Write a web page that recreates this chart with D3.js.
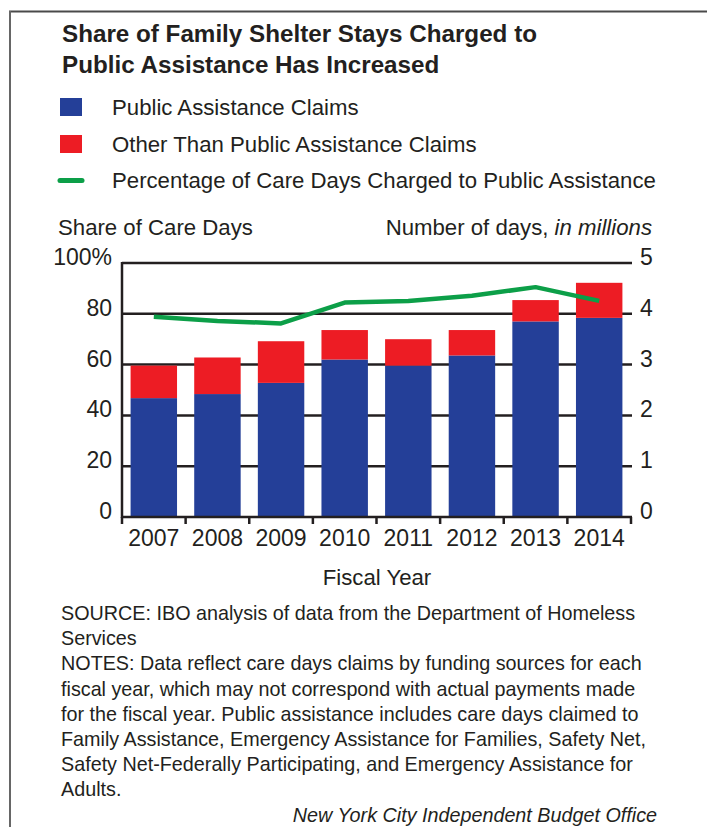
<!DOCTYPE html>
<html>
<head>
<meta charset="utf-8">
<script src="https://cdn.jsdelivr.net/npm/d3@7"></script>
<style>
  body { margin: 0; background: #fff; }
  svg { display: block; }
  text { fill: #231f20; }
</style>
</head>
<body>
<svg id="chart" width="707" height="827"></svg>
<script>
// fiscal years and care days, in millions
var years = ["2007", "2008", "2009", "2010", "2011", "2012", "2013", "2014"];
var publicDays = [2.34, 2.42, 2.64, 3.10, 2.98, 3.18, 3.85, 3.92];
var otherDays = [0.64, 0.72, 0.82, 0.58, 0.52, 0.50, 0.42, 0.69];
// percent of care days charged to public assistance
var paShare = [78.8, 77.2, 76.2, 84.4, 85.0, 87.1, 90.5, 85.1];
var shareTicks = [0, 20, 40, 60, 80, 100];
var dayTicks = [0, 1, 2, 3, 4, 5];

var titleLines = ["Share of Family Shelter Stays Charged to", "Public Assistance Has Increased"];
var legendItems = ["Public Assistance Claims", "Other Than Public Assistance Claims",
                   "Percentage of Care Days Charged to Public Assistance"];
var noteLines = [
  "SOURCE: IBO analysis of data from the Department of Homeless",
  "Services",
  "NOTES: Data reflect care days claims by funding sources for each",
  "fiscal year, which may not correspond with actual payments made",
  "for the fiscal year. Public assistance includes care days claimed to",
  "Family Assistance, Emergency Assistance for Families, Safety Net,",
  "Safety Net-Federally Participating, and Emergency Assistance for",
  "Adults."
];

var BLUE = "#243f98", RED = "#ed1c24", GREEN = "#0c9f48", INK = "#231f20";
var SANS = "'Liberation Sans', Arial, sans-serif";

var svg = d3.select("#chart");

// scale a text's font size so that it spans w pixels
function fitTo(sel, w) {
  var len = sel.node().getComputedTextLength();
  var fs = parseFloat(sel.attr("font-size")) * w / len;
  sel.attr("font-size", fs);
  return fs;
}

// frame (top and left rules)
svg.append("line").attr("x1", 9).attr("x2", 707).attr("y1", 11.5).attr("y2", 11.5)
   .attr("stroke", "#4a4a4a").attr("stroke-width", 2);
svg.append("line").attr("x1", 10).attr("x2", 10).attr("y1", 11).attr("y2", 827)
   .attr("stroke", "#666").attr("stroke-width", 2);

// title: bold, squeezed horizontally to look condensed
var tt = svg.append("g").selectAll("text").data(titleLines).enter().append("text")
  .attr("x", 62).attr("y", function(d, i) { return 42 + i * 31; })
  .attr("font-family", SANS).attr("font-weight", "bold").attr("font-size", 23.5)
  .text(function(d) { return d; });
var squeeze = 475 / tt.nodes()[0].getComputedTextLength();
tt.each(function() {
  var n = d3.select(this);
  n.attr("textLength", this.getComputedTextLength() * squeeze)
   .attr("lengthAdjust", "spacingAndGlyphs");
});

// legend
var lg = svg.append("g");
lg.append("rect").attr("x", 60).attr("y", 98).attr("width", 22).attr("height", 18).attr("fill", BLUE);
lg.append("rect").attr("x", 60).attr("y", 135).attr("width", 22).attr("height", 18).attr("fill", RED);
lg.append("line").attr("x1", 60).attr("x2", 82).attr("y1", 180.5).attr("y2", 180.5)
  .attr("stroke", GREEN).attr("stroke-width", 5).attr("stroke-linecap", "round");
var lt = lg.selectAll("text.leg").data(legendItems).enter().append("text")
  .attr("class", "leg")
  .attr("x", 112)
  .attr("y", function(d, i) { return 115 + i * 36.5; })
  .attr("font-family", SANS).attr("font-size", 22)
  .text(function(d) { return d; });
var lfs = fitTo(d3.select(lt.nodes()[2]), 544);
lt.attr("font-size", lfs);

// axis titles
svg.append("text").attr("x", 58).attr("y", 235)
  .attr("font-family", SANS).attr("font-size", lfs).text("Share of Care Days");
var rt = svg.append("text").attr("x", 652).attr("y", 235).attr("text-anchor", "end")
  .attr("font-family", SANS).attr("font-size", lfs);
rt.append("tspan").text("Number of days, ");
rt.append("tspan").attr("font-style", "italic").text("in millions");

// plot scales
var x = d3.scaleBand().domain(years).range([122, 631]).paddingInner(0.27).paddingOuter(0.135);
var yDays = d3.scaleLinear().domain([0, 5]).range([517, 263]);
var yShare = d3.scaleLinear().domain([0, 100]).range([517, 263]);

// gridlines
svg.append("g").selectAll("line").data(shareTicks.slice(1)).enter().append("line")
  .attr("x1", 122).attr("x2", 632)
  .attr("y1", function(d) { return yShare(d); })
  .attr("y2", function(d) { return yShare(d); })
  .attr("stroke", INK).attr("stroke-width", 2.5);

// stacked bars
var rows = years.map(function(y, i) { return { year: y, pa: publicDays[i], other: otherDays[i] }; });
var stacked = d3.stack().keys(["pa", "other"])(rows);
var colors = { pa: BLUE, other: RED };
svg.append("g").selectAll("g").data(stacked).enter().append("g")
  .attr("fill", function(s) { return colors[s.key]; })
  .selectAll("rect").data(function(s) { return s; }).enter().append("rect")
  .attr("x", function(d) { return x(d.data.year); })
  .attr("width", x.bandwidth())
  .attr("y", function(d) { return yDays(d[1]); })
  .attr("height", function(d) { return yDays(d[0]) - yDays(d[1]); });

// share line
var line = d3.line()
  .x(function(d, i) { return x(years[i]) + x.bandwidth() / 2; })
  .y(function(d) { return yShare(d); });
svg.append("path").datum(paShare).attr("d", line)
  .attr("fill", "none").attr("stroke", GREEN).attr("stroke-width", 4.5)
  .attr("stroke-linejoin", "round");

// axes lines
svg.append("line").attr("x1", 122).attr("x2", 122).attr("y1", 262).attr("y2", 518)
  .attr("stroke", INK).attr("stroke-width", 2.5);
svg.append("line").attr("x1", 121).attr("x2", 632).attr("y1", 517).attr("y2", 517)
  .attr("stroke", INK).attr("stroke-width", 2.5);

// x ticks on band boundaries
var bounds = years.map(function(y) { return x(y) - x.step() * x.paddingInner() / 2; });
bounds.push(631);
svg.append("g").selectAll("line").data(bounds).enter().append("line")
  .attr("x1", function(d) { return d; }).attr("x2", function(d) { return d; })
  .attr("y1", 517).attr("y2", 524)
  .attr("stroke", INK).attr("stroke-width", 2.5);

// tick labels
svg.append("g").selectAll("text").data(shareTicks).enter().append("text")
  .attr("x", 112).attr("y", function(d) { return yShare(d) + 2; })
  .attr("text-anchor", "end").attr("font-family", SANS).attr("font-size", 23)
  .text(function(d) { return d === 100 ? "100%" : d; });
svg.append("g").selectAll("text").data(dayTicks).enter().append("text")
  .attr("x", 640).attr("y", function(d) { return yDays(d) + 2; })
  .attr("font-family", SANS).attr("font-size", 23)
  .text(function(d) { return d; });
svg.append("g").selectAll("text").data(years).enter().append("text")
  .attr("x", function(d) { return x(d) + x.bandwidth() / 2; }).attr("y", 546)
  .attr("text-anchor", "middle").attr("font-family", SANS).attr("font-size", 23)
  .text(function(d) { return d; });

svg.append("text").attr("x", 377).attr("y", 585).attr("text-anchor", "middle")
  .attr("font-family", SANS).attr("font-size", lfs).text("Fiscal Year");

// source and notes
var nt = svg.append("g").selectAll("text").data(noteLines).enter().append("text")
  .attr("x", 61).attr("y", function(d, i) { return 620 + i * 25.2; })
  .attr("font-family", SANS).attr("font-size", 18.5)
  .text(function(d) { return d; });
var nfs = fitTo(d3.select(nt.nodes()[2]), 581);
nt.attr("font-size", nfs);

svg.append("text").attr("x", 657).attr("y", 822).attr("text-anchor", "end")
  .attr("font-family", SANS).attr("font-style", "italic").attr("font-size", nfs)
  .text("New York City Independent Budget Office");
</script>
</body>
</html>
